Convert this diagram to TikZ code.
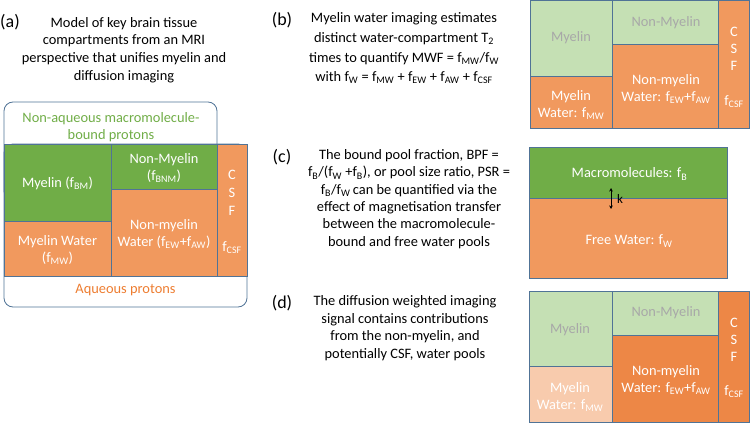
\documentclass[tikz,border=0pt]{standalone}
\usepackage{fontspec}
\setmainfont{Carlito}
\usetikzlibrary{arrows.meta}
\definecolor{gr}{RGB}{112,173,71}
\definecolor{lgr}{RGB}{197,224,180}
\definecolor{org}{RGB}{241,153,94}
\definecolor{dorg}{RGB}{237,135,70}
\definecolor{lorg}{RGB}{248,203,173}
\definecolor{bord}{RGB}{80,115,150}
\definecolor{txtorg}{RGB}{237,125,49}
\definecolor{gtxt}{RGB}{168,168,168}
\newcommand{\sbs}[1]{\textsubscript{#1}}
\setlength{\lineskiplimit}{-10pt}
\tikzset{
  comp/.style={draw=bord, line width=0.8pt},
  outer/.style={draw=bord, line width=0.8pt, rounded corners=9pt},
  txt/.style={font=\fontsize{14.4}{17.6}\selectfont, align=center, inner sep=0pt},
  wtxt/.style={txt, text=white},
  gtx/.style={txt, text=gtxt},
  plabel/.style={font=\fontsize{18}{20}\selectfont, inner sep=0pt},
}
\begin{document}
\begin{tikzpicture}[x=1pt,y=-1pt]
\useasboundingbox (0,0) rectangle (750,423);
% ---------------- (a)
\node[plabel] (la) at (10,22) {(a)};
\node[txt] (ta) at (124,50) {Model of key brain tissue\\compartments from an MRI\\perspective that unifies myelin and\\diffusion imaging};
\draw[outer] (4,144) rectangle (247,307);
\draw[outer] (4,102) rectangle (217,200);
\path[comp, fill=gr] (4,144.5) rectangle (111,221);
\path[comp, fill=gr] (111,144.5) rectangle (217,189);
\path[comp, fill=org] (4,221) rectangle (111,276);
\path[comp, fill=org] (111,189) rectangle (217,276);
\path[comp, fill=org] (217,144.5) rectangle (247,276);
\node[txt, text=gr] (nonaq) at (111,127) {Non-aqueous macromolecule-\\bound protons};
\node[wtxt] (amy) at (57.5,183) {Myelin (f\sbs{BM})};
\node[wtxt] (anm) at (164,168) {Non-Myelin\\(f\sbs{BNM})};
\node[wtxt] (amw) at (57.5,250) {Myelin Water\\(f\sbs{MW})};
\node[wtxt] (anmw) at (164,234) {Non-myelin\\Water (f\sbs{EW}+f\sbs{AW})};
\node[wtxt, font=\fontsize{14.4}{17.8}\selectfont] (acsf) at (232,193) {C\\S\\F};
\node[wtxt] (acsff) at (232,248) {f\sbs{CSF}};
\node[txt, text=txtorg] (aq) at (125.5,290) {Aqueous protons};
% ---------------- (b)
\node[plabel] (lb) at (282,20) {(b)};
\node[txt, font=\fontsize{14.4}{19.6}\selectfont] (tb) at (404,48.5) {Myelin water imaging estimates\\distinct water-compartment T\sbs{2}\\times to quantify MWF = f\sbs{MW}/f\sbs{W}\\with f\sbs{W} = f\sbs{MW} + f\sbs{EW} + f\sbs{AW} + f\sbs{CSF}};
\path[comp, fill=lgr] (530,0.5) rectangle (612.7,76);
\path[comp, fill=lgr] (612.7,0.5) rectangle (718.5,44);
\path[comp, fill=org] (530,76) rectangle (612.7,128);
\path[comp, fill=org] (612.7,44) rectangle (718.5,128);
\path[comp, fill=org] (718.5,0.5) rectangle (749.5,128);
\node[gtx] (bmy) at (571,38) {Myelin};
\node[gtx] (bnm) at (666,23) {Non-Myelin};
\node[wtxt] (bmw) at (571,105) {Myelin\\Water: f\sbs{MW}};
\node[wtxt] (bnmw) at (666,89) {Non-myelin\\Water: f\sbs{EW}+f\sbs{AW}};
\node[wtxt, font=\fontsize{14.4}{17}\selectfont] (bcsf) at (734,49) {C\\S\\F};
\node[wtxt] (bcsff) at (734,102) {f\sbs{CSF}};
% ---------------- (c)
\node[plabel] (lc) at (282,157) {(c)};
\node[txt, font=\fontsize{14.4}{17.3}\selectfont] (tc) at (409,199) {The bound pool fraction, BPF =\\f\sbs{B}/(f\sbs{W} +f\sbs{B}), or pool size ratio, PSR =\\f\sbs{B}/f\sbs{W}\,can be quantified via the\\effect of magnetisation transfer\\between the macromolecule-\\bound and free water pools};
\path[comp, fill=gr] (529,147) rectangle (727,198.5);
\path[comp, fill=org] (529,198.5) rectangle (727,278);
\node[wtxt] (cm) at (629.5,174) {Macromolecules: f\sbs{B}};
\node[wtxt] (cw) at (629,241) {Free Water: f\sbs{W}};
\coordinate (k1) at (611,188);
\coordinate (k2) at (611,209);
\draw[line width=0.8pt, {Stealth[length=3.5pt,width=3.5pt]}-{Stealth[length=3.5pt,width=3.5pt]}] (k1) -- (k2);
\node[txt, font=\fontsize{13}{14}\selectfont] (ck) at (620,199) {k};
% ---------------- (d)
\node[plabel] (ld) at (282,303) {(d)};
\node[txt, font=\fontsize{14.4}{17.5}\selectfont] (td) at (405,328) {The diffusion weighted imaging\\signal contains contributions\\from the non-myelin, and\\potentially CSF, water pools};
\path[comp, fill=lgr] (529,291) rectangle (612,366);
\path[comp, fill=lgr] (612,291) rectangle (718,335);
\path[comp, fill=lorg] (529,366) rectangle (612,422.5);
\path[comp, fill=dorg] (612,335) rectangle (718,422.5);
\path[comp, fill=dorg] (718,291) rectangle (749.5,422.5);
\node[gtx] (dmy) at (570,330) {Myelin};
\node[gtx] (dnm) at (666,313) {Non-Myelin};
\node[wtxt] (dmw) at (570,397) {Myelin\\Water: f\sbs{MW}};
\node[wtxt] (dnmw) at (666,380) {Non-myelin\\Water: f\sbs{EW}+f\sbs{AW}};
\node[wtxt, font=\fontsize{14.4}{17}\selectfont] (dcsf) at (734,340) {C\\S\\F};
\node[wtxt] (dcsff) at (734,392) {f\sbs{CSF}};
\end{tikzpicture}
\end{document}
